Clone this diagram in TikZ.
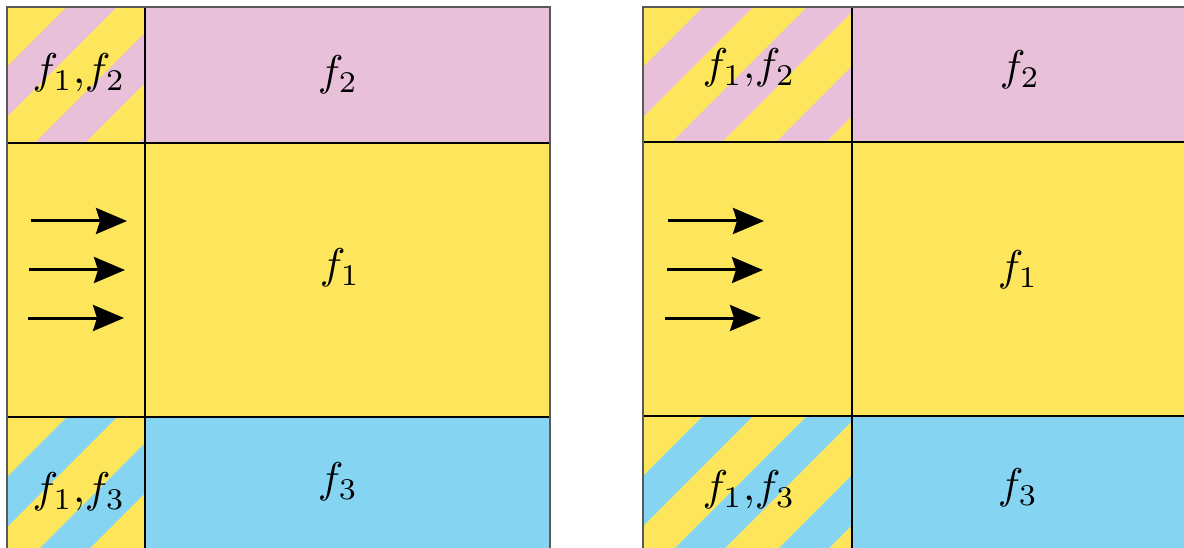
\documentclass[tikz,border=0pt]{standalone}
\usepackage{graphicx}
\usetikzlibrary{arrows.meta}
\definecolor{cyel}{RGB}{254,230,92}
\definecolor{cpink}{RGB}{232,192,218}
\definecolor{cblue}{RGB}{132,212,242}
\newcommand\biglbl[1]{\scalebox{4.3}{$#1$}}
\tikzset{
  lbl/.style={inner sep=0pt},
  flow/.style={line width=3pt, -{Stealth[length=31pt,width=26pt,inset=4pt]}},
  outerframe/.style={draw=black!65, line width=1.5pt},
  divider/.style={draw=black, line width=1.5pt},
}
% stripes: cell x0,y0,x1,y1, colour
\newcommand\stripecell[5]{%
  \begin{scope}
    \clip (#1,#2) rectangle (#3,#4);
    \foreach \k in {0,...,3}{%
      \fill[#5] ({#1+60+104*\k},#2) -- ({#1+110+104*\k},#2)
        -- ({#1+110+104*\k-400},{#2+400}) -- ({#1+60+104*\k-400},{#2+400}) -- cycle;
    }
  \end{scope}}
\begin{document}
\begin{tikzpicture}[x=1pt,y=-1pt]
\useasboundingbox (0,0) rectangle (1184,548);
\clip (0,0) rectangle (1184,548);

% ---------- left panel ----------
\fill[cyel] (7,7) rectangle (550,560);
\fill[cpink] (145,7) rectangle (550,143);
\fill[cblue] (145,417) rectangle (550,560);
\stripecell{7}{7}{145}{143}{cpink}
\stripecell{7}{417}{145}{560}{cblue}
\draw[divider] (145,7) -- (145,560);
\draw[divider] (7,143) -- (550,143);
\draw[divider] (7,417) -- (550,417);
\draw[outerframe] (7,7) rectangle (550,560);

\node[lbl] (L12) at (79,73) {\biglbl{f_1{,}f_2}};
\node[lbl] (L2) at (338,75) {\biglbl{f_2}};
\node[lbl] (L1) at (340,268) {\biglbl{f_1}};
\node[lbl] (L3) at (338,482) {\biglbl{f_3}};
\node[lbl] (L13) at (79,492) {\biglbl{f_1{,}f_3}};

\coordinate (la1s) at (31,221); \coordinate (la1e) at (127,221);
\coordinate (la2s) at (29,270); \coordinate (la2e) at (125,270);
\coordinate (la3s) at (28,318); \coordinate (la3e) at (124,318);
\draw[flow] (la1s) -- (la1e);
\draw[flow] (la2s) -- (la2e);
\draw[flow] (la3s) -- (la3e);

% ---------- right panel ----------
\fill[cyel] (643,7) rectangle (1190,560);
\fill[cpink] (852,7) rectangle (1190,142);
\fill[cblue] (852,416) rectangle (1190,560);
\stripecell{643}{7}{852}{142}{cpink}
\stripecell{643}{416}{852}{560}{cblue}
\draw[divider] (852,7) -- (852,560);
\draw[divider] (643,142) -- (1190,142);
\draw[divider] (643,416) -- (1190,416);
\draw[outerframe] (643,7) rectangle (1190,560);

\node[lbl] (R12) at (749,68) {\biglbl{f_1{,}f_2}};
\node[lbl] (R2) at (1020,70) {\biglbl{f_2}};
\node[lbl] (R1) at (1018,270) {\biglbl{f_1}};
\node[lbl] (R3) at (1018,488) {\biglbl{f_3}};
\node[lbl] (R13) at (749,490) {\biglbl{f_1{,}f_3}};

\coordinate (ra1s) at (668,221); \coordinate (ra1e) at (764,221);
\coordinate (ra2s) at (667,270); \coordinate (ra2e) at (763,270);
\coordinate (ra3s) at (665,318); \coordinate (ra3e) at (761,318);
\draw[flow] (ra1s) -- (ra1e);
\draw[flow] (ra2s) -- (ra2e);
\draw[flow] (ra3s) -- (ra3e);
\end{tikzpicture}
\end{document}
